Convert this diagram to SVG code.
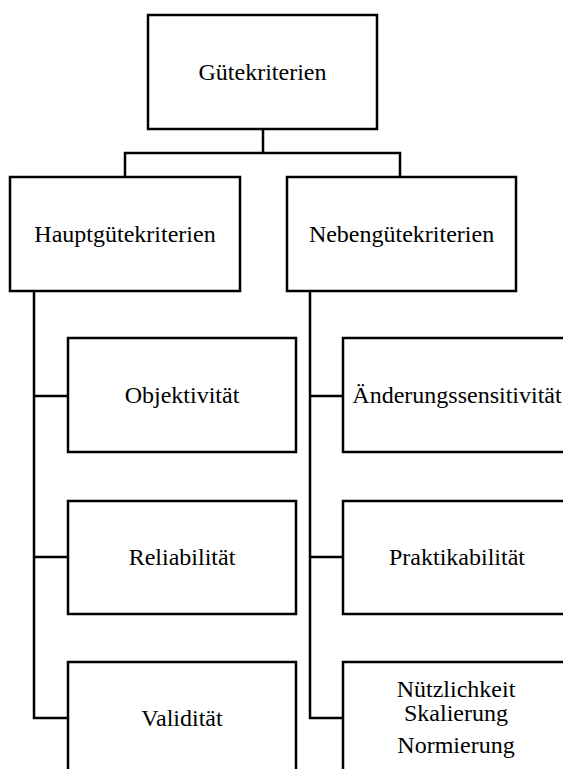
<svg xmlns="http://www.w3.org/2000/svg" width="563" height="769" viewBox="0 0 563 769">
<style>
.box{fill:#fff;stroke:#000;stroke-width:2.5}
.lbl{font-family:"Liberation Serif","Times New Roman",serif;font-size:24px;fill:#000;text-anchor:middle}
.con{fill:none;stroke:#000;stroke-width:2.5}
</style>
<rect width="563" height="769" fill="#fff"/>
<g id="connectors">
<path class="con" d="M263 129 V153 M125 177 V153 H400 V177"/>
<path class="con" d="M34 291 V718 H68 M34 396 H68 M34 557 H68"/>
<path class="con" d="M310 291 V718 H343 M310 396 H343 M310 557 H343"/>
</g>
<g id="root"><rect class="box" x="148" y="15" width="229" height="114"/><text class="lbl" x="262.5" y="80">Gütekriterien</text></g>
<g id="haupt"><rect class="box" x="10" y="177" width="230" height="114"/><text class="lbl" x="125" y="242">Hauptgütekriterien</text></g>
<g id="neben"><rect class="box" x="287" y="177" width="229" height="114"/><text class="lbl" x="401.5" y="242">Nebengütekriterien</text></g>
<g id="objektivitaet"><rect class="box" x="68" y="338" width="228" height="114"/><text class="lbl" x="182" y="403">Objektivität</text></g>
<g id="reliabilitaet"><rect class="box" x="68" y="501" width="228" height="113"/><text class="lbl" x="182" y="565">Reliabilität</text></g>
<g id="validitaet"><rect class="box" x="68" y="662" width="228" height="114"/><text class="lbl" x="182" y="726">Validität</text></g>
<g id="aenderung"><rect class="box" x="343" y="338" width="228" height="114"/><text class="lbl" x="457" y="403">Änderungssensitivität</text></g>
<g id="praktikabilitaet"><rect class="box" x="343" y="501" width="228" height="113"/><text class="lbl" x="457" y="565">Praktikabilität</text></g>
<g id="weitere"><rect class="box" x="343" y="662" width="228" height="114"/><text class="lbl" x="456" y="697">Nützlichkeit</text><text class="lbl" x="456" y="721">Skalierung</text><text class="lbl" x="456" y="753">Normierung</text></g>
</svg>
